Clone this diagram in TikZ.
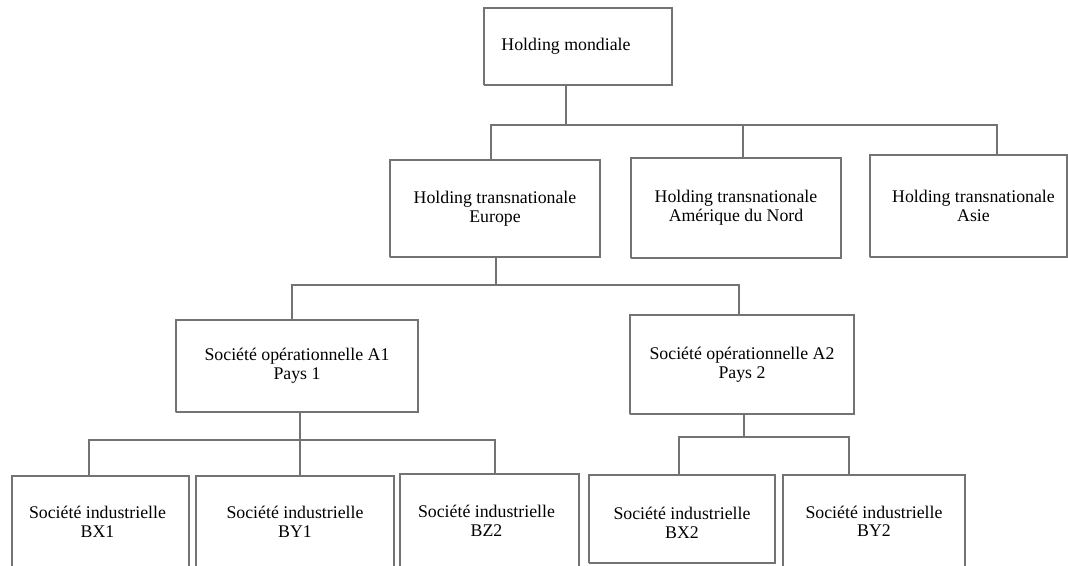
\documentclass[tikz,border=0pt]{standalone}
\usepackage{fontspec}
\setmainfont{Liberation Serif}
\begin{document}
\begin{tikzpicture}[x=1pt,y=-1pt,
  line/.style={draw=black!55, line width=1.1pt, dash pattern=on 0.6pt off 0.4pt},
  txt/.style={inner sep=0pt, align=center, font=\fontsize{17.8}{18.6}\selectfont},
  box/.style={line, fill=none, txt},
  link/.style={line}]
\useasboundingbox (0,0) rectangle (1068,565);
\node[box, minimum width=188, minimum height=77,
  label={[txt, xshift=-12pt]center:Holding mondiale}] (hm) at (578,46.5) {};
\node[box, minimum width=210, minimum height=97] (eu) at (495,208.5) {Holding transnationale\\Europe};
\node[box, minimum width=210, minimum height=100] (am) at (736,208) {Holding transnationale\\Amérique du Nord};
\node[box, minimum width=197, minimum height=102,
  label={[txt, xshift=5pt]center:{Holding transnationale\\Asie}}] (as) at (968.5,206) {};
\node[box, minimum width=242, minimum height=92] (a1) at (297,366) {Société opérationnelle A1\\Pays 1};
\node[box, minimum width=224, minimum height=99] (a2) at (742,364.5) {Société opérationnelle A2\\Pays 2};
\node[box, minimum width=177, minimum height=92,
  label={[txt, xshift=-3pt]center:{Société industrielle\\BX1}}] (bx1) at (100.5,522) {};
\node[box, minimum width=198, minimum height=92] (by1) at (295,522) {Société industrielle\\BY1};
\node[box, minimum width=179, minimum height=94,
  label={[txt, xshift=-3pt]center:{Société industrielle\\BZ2}}] (bz2) at (489.5,521) {};
\node[box, minimum width=186, minimum height=88,
  label={[txt, yshift=-4pt]center:{Société industrielle\\BX2}}] (bx2) at (682,519) {};
\node[box, minimum width=182, minimum height=93] (by2) at (874,521.5) {Société industrielle\\BY2};
% level 1
\draw[link] (hm.south -| 566,0) -- (566,125);
\draw[link] (eu.north -| 491,0) |- (997,125) -- (as.north -| 997,0);
\draw[link] (am.north -| 743,0) -- (743,125);
% level 2
\draw[link] (eu.south -| 496,0) -- (496,285);
\draw[link] (a1.north -| 292,0) |- (739,285) -- (a2.north -| 739,0);
% level 3 (A1)
\draw[link] (a1.south -| 300,0) -- (by1.north -| 300,0);
\draw[link] (bx1.north -| 89,0) |- (495,440) -- (bz2.north -| 495,0);
% level 3 (A2)
\draw[link] (a2.south -| 744,0) -- (744,437);
\draw[link] (bx2.north -| 679,0) |- (849,437) -- (by2.north -| 849,0);
\end{tikzpicture}
\end{document}
